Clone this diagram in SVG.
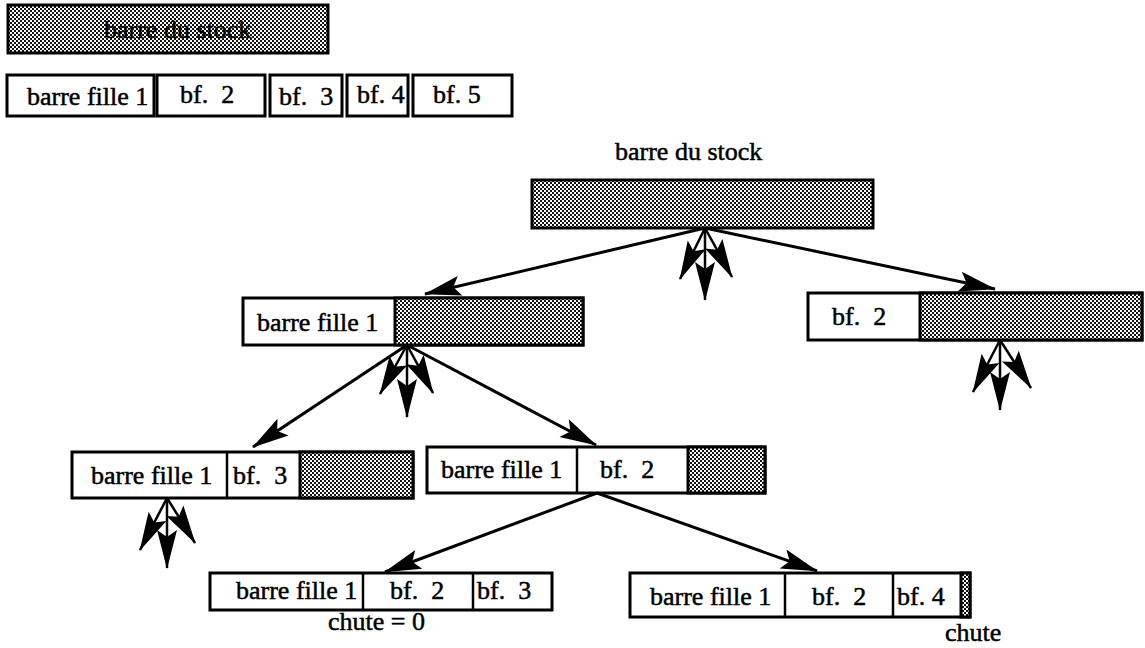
<svg xmlns="http://www.w3.org/2000/svg" width="1145" height="648" viewBox="0 0 1145 648">
<style>
.bx{fill:#fff;stroke:#000;stroke-width:3}
.gr{fill:url(#dots);stroke:#000;stroke-width:3}
.dv{stroke:#000;stroke-width:2.5}
.t{font-family:"Liberation Serif","Times New Roman",serif;font-size:26px;fill:#000;stroke:#000;stroke-width:0.5}
.e{fill:none;stroke:#000;stroke-width:3}
.f{fill:none;stroke:#000;stroke-width:2.5}
</style>
<defs>
<pattern id="dots" width="4" height="4" patternUnits="userSpaceOnUse">
<rect width="4" height="4" fill="#fff"/>
<rect width="2" height="2" fill="#111"/>
<rect x="2" y="2" width="2" height="2" fill="#111"/>
</pattern>
<marker id="head" viewBox="-40 -12 42 24" refX="0" refY="0" markerWidth="42" markerHeight="24" markerUnits="userSpaceOnUse" orient="auto">
<path d="M1,0 L-36,-10 L-29,0 L-36,10 Z" fill="#000"/>
</marker>
<marker id="fan" viewBox="-42 -12 44 24" refX="0" refY="0" markerWidth="44" markerHeight="24" markerUnits="userSpaceOnUse" orient="auto">
<path d="M1,0 L-38,-10 L-31,0 L-38,10 Z" fill="#000"/>
</marker>
</defs>

<g id="legend-stock">
<rect class="gr" x="8" y="5" width="320" height="48"/>
<text class="t" x="104" y="38">barre du stock</text>
</g>

<g id="legend-row">
<rect class="bx" x="7" y="75" width="147" height="41"/>
<text class="t" x="27" y="105" font-size="25">barre fille 1</text>
<rect class="bx" x="157" y="75" width="108" height="41"/>
<text class="t" x="180" y="103" xml:space="preserve">bf.  2</text>
<rect class="bx" x="270" y="75" width="72" height="41"/>
<text class="t" x="279" y="105" xml:space="preserve">bf.  3</text>
<rect class="bx" x="347" y="75" width="61" height="41"/>
<text class="t" x="357" y="103">bf. 4</text>
<rect class="bx" x="413" y="75" width="99" height="41"/>
<text class="t" x="433" y="103">bf. 5</text>
</g>

<g id="root">
<text class="t" x="615" y="160">barre du stock</text>
<rect class="gr" x="532" y="180" width="341" height="48"/>
</g>

<g id="n-left">
<rect class="bx" x="243" y="298" width="340" height="47"/>
<rect class="gr" x="395" y="298" width="188" height="47"/>
<text class="t" x="257" y="331">barre fille 1</text>
</g>

<g id="n-right">
<rect class="bx" x="808" y="293" width="334" height="47"/>
<rect class="gr" x="920" y="293" width="222" height="47"/>
<text class="t" x="832" y="325" xml:space="preserve">bf.  2</text>
</g>

<g id="n-ll">
<rect class="bx" x="72" y="452" width="341" height="46"/>
<line class="dv" x1="227" y1="452" x2="227" y2="498"/>
<rect class="gr" x="300" y="452" width="113" height="46"/>
<text class="t" x="91" y="484">barre fille 1</text>
<text class="t" x="233" y="484" xml:space="preserve">bf.  3</text>
</g>

<g id="n-lr">
<rect class="bx" x="427" y="447" width="338" height="46"/>
<line class="dv" x1="577" y1="447" x2="577" y2="493"/>
<rect class="gr" x="688" y="447" width="77" height="46"/>
<text class="t" x="441" y="478">barre fille 1</text>
<text class="t" x="600" y="478" xml:space="preserve">bf.  2</text>
</g>

<g id="n-bl">
<rect class="bx" x="210" y="573" width="342" height="37"/>
<line class="dv" x1="363" y1="573" x2="363" y2="610"/>
<line class="dv" x1="473" y1="573" x2="473" y2="610"/>
<text class="t" x="236" y="599">barre fille 1</text>
<text class="t" x="390" y="599" xml:space="preserve">bf.  2</text>
<text class="t" x="477" y="599" xml:space="preserve">bf.  3</text>
<text class="t" x="328" y="630">chute = 0</text>
</g>

<g id="n-br">
<rect class="bx" x="630" y="573" width="340" height="44"/>
<line class="dv" x1="785" y1="573" x2="785" y2="617"/>
<line class="dv" x1="893" y1="573" x2="893" y2="617"/>
<rect class="gr" x="961" y="573" width="9" height="44"/>
<text class="t" x="650" y="605">barre fille 1</text>
<text class="t" x="812" y="605" xml:space="preserve">bf.  2</text>
<text class="t" x="897" y="605">bf. 4</text>
<text class="t" x="945" y="641">chute</text>
</g>

<g id="connectors">
<path class="e" d="M705,228 L425,294" marker-end="url(#head)"/>
<path class="e" d="M705,228 L995,289" marker-end="url(#head)"/>
<path class="e" d="M407,345 L253,447" marker-end="url(#head)"/>
<path class="e" d="M407,345 L596,445" marker-end="url(#head)"/>
<path class="e" d="M597,493 L385,572" marker-end="url(#head)"/>
<path class="e" d="M597,493 L817,571" marker-end="url(#head)"/>

<path class="f" d="M705,228 L680,279" marker-end="url(#fan)"/>
<path class="f" d="M705,228 L705,300" marker-end="url(#fan)"/>
<path class="f" d="M705,228 L732,277" marker-end="url(#fan)"/>

<path class="f" d="M407,345 L380,394" marker-end="url(#fan)"/>
<path class="f" d="M407,345 L407,417" marker-end="url(#fan)"/>
<path class="f" d="M407,345 L433,393" marker-end="url(#fan)"/>

<path class="f" d="M1000,340 L973,392" marker-end="url(#fan)"/>
<path class="f" d="M1000,340 L1000,410" marker-end="url(#fan)"/>
<path class="f" d="M1000,340 L1031,388" marker-end="url(#fan)"/>

<path class="f" d="M167,498 L140,550" marker-end="url(#fan)"/>
<path class="f" d="M167,498 L167,568" marker-end="url(#fan)"/>
<path class="f" d="M167,498 L195,543" marker-end="url(#fan)"/>
</g>
</svg>
